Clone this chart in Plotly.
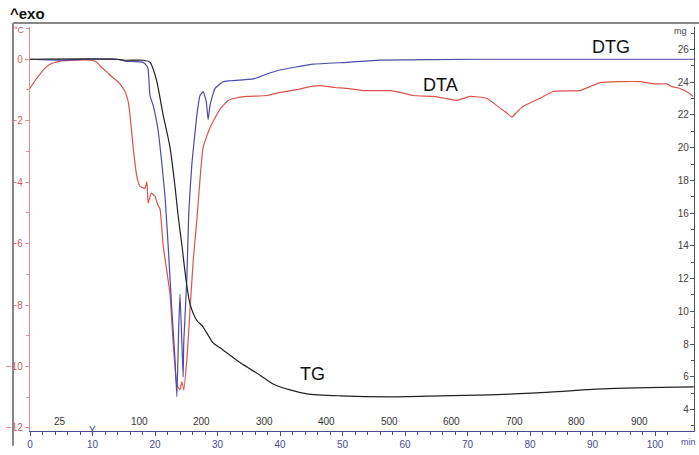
import plotly.graph_objects as go

# ---- data ----
# DTA (°C, left axis) vs time (min)
dta_t = [0, 0.8, 1.6, 2.4, 3.2, 4.8, 7.2, 9.6, 10.7, 11.2, 12.3, 13.1, 13.9, 14.6, 15.2, 15.7,
         16.0, 16.5, 17.1, 17.6, 18.4, 18.7, 18.9, 19.4, 20.0, 20.5, 20.8, 21.3, 22.4, 22.9,
         23.5, 24.0, 24.3, 24.6, 25.1, 25.6, 26.1, 26.7, 27.2, 27.7, 28.8, 29.6, 30.4, 31.7,
         32.8, 34.7, 37.9, 40.0, 42.7, 44.8, 46.4, 48.8, 50.7, 53.3, 57.6, 59.2, 61.3, 64.5,
         66.4, 68.3, 70.4, 73.1, 75.2, 76.3, 77.1, 77.9, 78.9, 81.6, 83.7, 88.0, 89.6, 91.2,
         94.4, 97.6, 100.0, 101.9, 102.7, 104.0, 105.3, 106.1]
dta_v = [-0.95, -0.70, -0.48, -0.29, -0.16, -0.06, -0.03, -0.03, -0.10, -0.22, -0.41, -0.57,
         -0.70, -0.86, -1.05, -1.37, -1.81, -2.86, -3.82, -4.14, -4.20, -3.98, -4.68, -4.36,
         -4.46, -4.77, -4.87, -6.05, -7.64, -9.23, -10.60, -10.76, -10.50, -10.76, -9.77,
         -8.18, -6.59, -5.22, -3.91, -2.86, -2.23, -1.91, -1.62, -1.34, -1.27, -1.21, -1.18,
         -1.08, -0.99, -0.89, -0.86, -0.92, -0.95, -1.02, -1.02, -1.08, -1.18, -1.21, -1.27,
         -1.34, -1.21, -1.27, -1.59, -1.75, -1.88, -1.72, -1.53, -1.27, -1.05, -1.02, -0.89,
         -0.76, -0.73, -0.73, -0.80, -0.80, -0.89, -0.95, -1.08, -1.21]

# DTG (drawn on the left scale) vs time (min)
dtg_t = [0, 4.8, 9.6, 13.9, 15.2, 18.1, 18.7, 18.9, 19.2, 19.7, 20.5, 21.1, 21.6, 22.1, 22.7,
         23.2, 23.5, 23.8, 24.0, 24.3, 24.5, 24.6, 25.1, 25.4, 25.9, 26.7, 27.2, 27.7, 28.2,
         28.5, 28.8, 29.6, 30.9, 32.0, 35.7, 37.9, 40.0, 45.3, 50.7, 56.0, 72.0, 106.2]
dtg_v = [0, -0.03, 0, 0, -0.06, -0.10, -0.22, -0.32, -1.18, -1.50, -2.32, -3.41, -4.46, -6.05,
         -8.18, -9.77, -10.98, -8.69, -7.64, -9.23, -10.34, -9.23, -7.10, -5.00, -3.41, -1.81,
         -1.18, -1.05, -1.37, -1.97, -1.50, -0.95, -0.73, -0.70, -0.64, -0.48, -0.35, -0.16,
         -0.10, -0.03, 0, 0]

# TG (mg, right axis) vs time (min)
tg_t = [0, 13.9, 15.2, 18.1, 19.2, 19.7, 20.3, 21.3, 22.4, 23.2, 23.7, 24.3, 25.0, 25.6, 26.7,
        27.5, 28.3, 29.3, 30.4, 33.6, 36.8, 38.9, 41.6, 44.3, 49.6, 57.6, 65.6, 73.6, 81.1,
        91.7, 106.2]
tg_v = [25.40, 25.40, 25.34, 25.34, 25.22, 24.80, 24.03, 22.00, 20.02, 17.63, 15.84, 14.05,
        11.83, 10.46, 9.44, 9.14, 8.67, 8.07, 7.77, 6.87, 6.10, 5.56, 5.20, 4.96, 4.84, 4.78,
        4.84, 4.90, 5.02, 5.26, 5.38]

# tick labels
time_ticks = [0, 10, 20, 30, 40, 50, 60, 70, 80, 90, 100]
left_ticks = [-12, -10, -8, -6, -4, -2, 0]
right_ticks = [4, 6, 8, 10, 12, 14, 16, 18, 20, 22, 24, 26]
temp_labels = [25, 100, 200, 300, 400, 500, 600, 700, 800, 900]
temp_times = [4.8, 17.5, 27.5, 37.5, 47.5, 57.5, 67.5, 77.5, 87.5, 97.5]

# ---- figure ----
RED = "#d9534f"
RED_AX = "#ee8c8c"
BLUE = "#4b4ba8"
NAVY = "#4a4a98"
BLACK = "#222222"
FONT = "Liberation Sans, Arial, sans-serif"

fig = go.Figure()
fig.add_trace(go.Scatter(x=dta_t, y=dta_v, mode="lines",
                         line=dict(color=RED, width=1.2, shape="spline", smoothing=0.4),
                         name="DTA", yaxis="y"))
fig.add_trace(go.Scatter(x=dtg_t, y=dtg_v, mode="lines",
                         line=dict(color=BLUE, width=1.2, shape="spline", smoothing=0.4),
                         name="DTG", yaxis="y"))
fig.add_trace(go.Scatter(x=tg_t, y=tg_v, mode="lines",
                         line=dict(color=BLACK, width=1.2, shape="spline", smoothing=0.7),
                         name="TG", yaxis="y2"))

W, H = 699, 455
L, R, T, B = 30, 5, 27, 15
pw, ph = W - L - R, H - T - B


def px(x):
    return (x - L) / pw


def py(y):
    return (H - B - y) / ph


fig.update_layout(
    width=W, height=H,
    margin=dict(l=L, r=R, t=T, b=B),
    paper_bgcolor="white", plot_bgcolor="white",
    showlegend=False,
    font=dict(family=FONT, size=10),
    xaxis=dict(range=[0, 106.24], tickvals=time_ticks, showgrid=False, zeroline=False,
               showline=True, linecolor=NAVY, linewidth=1.2, ticks="outside", ticklen=4,
               tickcolor=NAVY, tickfont=dict(color=NAVY, size=10),
               minor=dict(dtick=2, ticks="outside", ticklen=3, tickcolor=NAVY)),
    yaxis=dict(range=[-12.1, 1.05], tickvals=left_ticks, showgrid=False, zeroline=False,
               showline=True, linecolor=RED_AX, linewidth=1.2, ticks="outside", ticklen=4,
               tickcolor=RED_AX, tickfont=dict(color="#d06060", size=10),
               minor=dict(dtick=1, ticks="outside", ticklen=3, tickcolor=RED_AX)),
    yaxis2=dict(range=[2.69, 27.37], tickvals=right_ticks, overlaying="y", side="right",
                showgrid=False, zeroline=False, showline=True, linecolor="#555555",
                linewidth=1.2, ticks="inside", ticklen=4, tickcolor="#555555",
                ticklabelposition="inside", tickfont=dict(color="#444444", size=10),
                minor=dict(dtick=1, ticks="inside", ticklen=3, tickcolor="#555555")),
)

# frame lines (gray)
fig.add_shape(type="line", xref="paper", yref="paper", x0=px(13), x1=px(13), y0=py(23), y1=py(455),
              line=dict(color="#888888", width=2))
fig.add_shape(type="line", xref="paper", yref="paper", x0=px(13), x1=px(699), y0=py(23), y1=py(23),
              line=dict(color="#888888", width=2))

ann = []
ann.append(dict(text="<b>^exo</b>", xref="paper", yref="paper", x=px(8), y=py(13),
                xanchor="left", yanchor="middle", showarrow=False,
                font=dict(size=15, color="#111111", family=FONT)))
ann.append(dict(text="°C", xref="paper", yref="paper", x=px(27), y=py(30),
                xanchor="right", yanchor="middle", showarrow=False,
                font=dict(size=9, color="#d06060", family=FONT)))
ann.append(dict(text="mg", xref="paper", yref="paper", x=px(689), y=py(31),
                xanchor="right", yanchor="middle", showarrow=False,
                font=dict(size=9, color="#444444", family=FONT)))
ann.append(dict(text="min", xref="paper", yref="paper", x=px(698), y=py(451),
                xanchor="right", yanchor="middle", showarrow=False,
                font=dict(size=9, color=NAVY, family=FONT)))
ann.append(dict(text="Y", xref="x", yref="paper", x=10, y=py(439),
                xanchor="center", yanchor="middle", showarrow=False,
                font=dict(size=10, color=NAVY, family=FONT)))
for lab, tt in zip(temp_labels, temp_times):
    ann.append(dict(text=str(lab), xref="x", yref="paper", x=tt, y=py(430),
                    xanchor="center", yanchor="middle", showarrow=False,
                    font=dict(size=10, color="#333333", family=FONT)))
ann.append(dict(text="DTG", xref="paper", yref="paper", x=px(611), y=py(47),
                xanchor="center", yanchor="middle", showarrow=False,
                font=dict(size=18, color="#111111", family=FONT)))
ann.append(dict(text="DTA", xref="paper", yref="paper", x=px(440), y=py(86),
                xanchor="center", yanchor="middle", showarrow=False,
                font=dict(size=18, color="#111111", family=FONT)))
ann.append(dict(text="TG", xref="paper", yref="paper", x=px(312), y=py(382),
                xanchor="center", yanchor="middle", showarrow=False,
                font=dict(size=18, color="#111111", family=FONT)))
fig.update_layout(annotations=ann)

fig.write_html("out.html")
